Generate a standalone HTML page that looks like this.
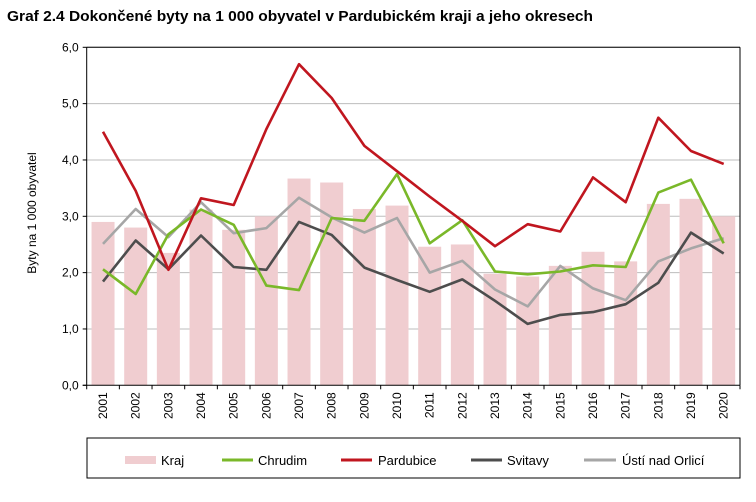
<!DOCTYPE html>
<html><head><meta charset="utf-8"><style>
body{margin:0;background:#fff;}
svg text{font-family:"Liberation Sans",Arial,sans-serif;}
</style></head><body>
<svg width="756" height="497" viewBox="0 0 756 497" xmlns="http://www.w3.org/2000/svg">
<rect width="756" height="497" fill="#fff"/>
<text x="7" y="21" font-size="14.5" font-weight="bold" fill="#000" textLength="586" lengthAdjust="spacingAndGlyphs">Graf 2.4 Dokončené byty na 1 000 obyvatel v Pardubickém kraji a jeho okresech</text>
<g id="grid" stroke="#bdbdbd" stroke-width="1"></g>
<g id="bars" fill="#f0cdd0"></g>
<g id="lines" fill="none" stroke-width="2.6" stroke-linejoin="round"></g>
<g id="axes"></g>
<text transform="translate(36,213) rotate(-90)" font-size="12" text-anchor="middle">Byty na 1 000 obyvatel</text>
<rect x="87" y="438" width="653" height="40" fill="none" stroke="#000" stroke-width="1"/>
<rect x="125" y="456" width="31" height="8" fill="#f0cdd0"/>
<text x="161" y="465" font-size="13">Kraj</text>
<line x1="222" y1="460" x2="253" y2="460" stroke="#7ab829" stroke-width="3"/>
<text x="258" y="465" font-size="13">Chrudim</text>
<line x1="341" y1="460" x2="372" y2="460" stroke="#c0161f" stroke-width="3"/>
<text x="378" y="465" font-size="13">Pardubice</text>
<line x1="471" y1="460" x2="502" y2="460" stroke="#4d4d4d" stroke-width="3"/>
<text x="507" y="465" font-size="13">Svitavy</text>
<line x1="584" y1="460" x2="616" y2="460" stroke="#a6a6a6" stroke-width="3"/>
<text x="622" y="465" font-size="13">Ústí nad Orlicí</text>
</svg>
<script>
const L=86.7,R=740,T=47.3,B=385.3,n=20,cw=(R-L)/n;
const y=v=>B-(B-T)*v/6, x=i=>L+cw*(i+0.5);
const ns="http://www.w3.org/2000/svg";
function el(p,t,a,txt){const e=document.createElementNS(ns,t);for(const k in a)e.setAttribute(k,a[k]);if(txt!=null)e.textContent=txt;document.getElementById(p).appendChild(e);return e;}
for(let v=1;v<=6;v++)el("grid","line",{x1:L,x2:R,y1:y(v),y2:y(v)});
const kraj=[2.9,2.8,2.35,3.12,2.76,3.0,3.67,3.6,3.13,3.19,2.46,2.5,1.98,1.93,2.12,2.37,2.2,3.22,3.31,3.0];
kraj.forEach((v,i)=>el("bars","rect",{x:x(i)-11.5,y:y(v),width:23,height:B-y(v)}));
const S=[
["#a6a6a6",[2.51,3.13,2.63,3.25,2.7,2.79,3.33,2.98,2.71,2.97,2.0,2.21,1.7,1.4,2.12,1.72,1.51,2.2,2.43,2.61]],
["#4d4d4d",[1.84,2.57,2.06,2.66,2.1,2.05,2.9,2.67,2.09,1.87,1.66,1.88,1.5,1.09,1.25,1.3,1.44,1.82,2.71,2.34]],
["#7ab829",[2.06,1.62,2.68,3.12,2.85,1.77,1.69,2.97,2.92,3.75,2.52,2.93,2.02,1.97,2.02,2.13,2.1,3.42,3.65,2.52]],
["#c0161f",[4.5,3.45,2.05,3.32,3.2,4.55,5.7,5.1,4.25,3.8,3.35,2.92,2.47,2.86,2.73,3.69,3.25,4.75,4.16,3.93]]];
S.forEach(([c,d])=>el("lines","polyline",{stroke:c,points:d.map((v,i)=>x(i).toFixed(1)+","+y(v).toFixed(1)).join(" ")}));
el("axes","line",{x1:L,x2:L,y1:T,y2:B,stroke:"#000"});
el("axes","line",{x1:R,x2:R,y1:T,y2:B,stroke:"#000"});
el("axes","line",{x1:L,x2:R,y1:T,y2:T,stroke:"#000"});
el("axes","line",{x1:L-4,x2:R,y1:B,y2:B,stroke:"#000"});
for(let v=0;v<=6;v++){el("axes","line",{x1:L-4,x2:L,y1:y(v),y2:y(v),stroke:"#000"});
el("axes","text",{x:L-8,y:y(v)+4,"font-size":"12","text-anchor":"end"},v.toFixed(1).replace(".",","));}
for(let i=0;i<=n;i++)el("axes","line",{x1:L+cw*i,x2:L+cw*i,y1:B,y2:B+4,stroke:"#000"});
for(let i=0;i<n;i++)el("axes","text",{transform:`translate(${x(i)+4},${B+7}) rotate(-90)`,"font-size":"12","text-anchor":"end"},String(2001+i));
</script>
</body></html>
